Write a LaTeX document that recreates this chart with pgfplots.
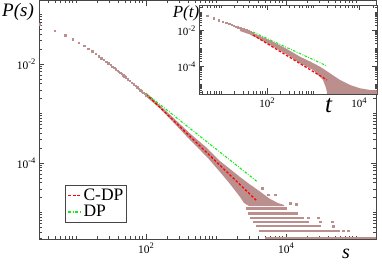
\documentclass[border=0pt]{standalone}
\usepackage{fontspec}
\setmainfont{Liberation Serif}
\usepackage{pgfplots}
\pgfplotsset{compat=1.18}
\definecolor{rosy}{RGB}{188,143,143}
\definecolor{dpgreen}{RGB}{20,235,20}
\definecolor{cdpred}{RGB}{255,0,0}
\definecolor{frame}{RGB}{70,70,70}
\newcommand{\tenp}[1]{10\raisebox{0.43em}{\fontsize{8.5}{8.5}\selectfont #1}}
\begin{document}
\begin{tikzpicture}
\path[use as bounding box] (0,0) rectangle (382pt,264pt);
\begin{axis}[
  at={(39pt,25pt)}, anchor=south west,
  scale only axis, width=337pt, height=238.5pt,
  xmode=log, ymode=log,
  xmin=2.958, xmax=1.93e5, ymin=2.917e-6, ymax=0.1919,
  xtick={100,10000}, xticklabels={\tenp{2},\tenp{4}},
  ytick={1e-4,1e-2}, yticklabels={\tenp{-4},\tenp{-2}},
  minor xtick={3,4,5,6,7,8,9,10,20,30,40,50,60,70,80,90,200,300,400,500,600,700,800,900,1000,2000,3000,4000,5000,6000,7000,8000,9000,20000,30000,40000,50000,60000,70000,80000,90000,100000},
  minor ytick={3e-6,4e-6,5e-6,6e-6,7e-6,8e-6,9e-6,1e-5,2e-5,3e-5,4e-5,5e-5,6e-5,7e-5,8e-5,9e-5,2e-4,3e-4,4e-4,5e-4,6e-4,7e-4,8e-4,9e-4,1e-3,2e-3,3e-3,4e-3,5e-3,6e-3,7e-3,8e-3,9e-3,2e-2,3e-2,4e-2,5e-2,6e-2,7e-2,8e-2,9e-2,1e-1},
  tick align=inside, major tick length=5.5pt, minor tick length=3pt,
  axis line style={frame, line width=0.8pt},
  every tick/.style={frame, line width=0.7pt},
  tick label style={font=\fontsize{11.5}{11.5}\selectfont},
  legend style={at={(0.0772,0.2264)}, anchor=north west, draw=frame, line width=0.8pt,
    font=\fontsize{17.5}{17.5}\selectfont, inner sep=2pt, nodes={inner sep=1.5pt}, row sep=0.5pt, cells={anchor=west}},
]
% dense cloud of C-DP sizes
\addplot[forget plot, fill=rosy, draw=none] coordinates {
(100,2.655e-3) (158.5,1.452e-3) (243.1,8.298e-4) (425.2,3.945e-4) (743.5,2.009e-4)
(1140,1.096e-4) (1585,7.568e-5) (2203,5.212e-5) (3059,3.681e-5) (4252,2.655e-5)
(5906,1.875e-5) (7686,1.556e-5) (9363,1.419e-5) (9363,1.352e-5) (2960,1.352e-5)
(2512,1.556e-5) (2203,2.056e-5) (1585,3.767e-5) (1140,6.577e-5) (743.5,1.321e-4)
(425.2,2.917e-4) (243.1,6.730e-4) (158.5,1.262e-3) (100,2.203e-3)};
% horizontal bands at large s
\addplot[forget plot, rosy, line width=2.4pt] coordinates {(2683,1.216e-5) (1.03e4,1.216e-5)};
\addplot[forget plot, rosy, line width=2.4pt] coordinates {(2865,9.64e-6) (1.484e4,9.64e-6)};
\addplot[forget plot, rosy, line width=2.4pt] coordinates {(3059,7.852e-6) (1.807e4,7.852e-6)};
\addplot[forget plot, rosy, line width=2.4pt] coordinates {(3378,6.516e-6) (2.131e4,6.516e-6)};
\addplot[forget plot, rosy, line width=2.4pt] coordinates {(3728,5.333e-6) (3.162e4,5.333e-6)};
\addplot[forget plot, rosy, line width=2.4pt] coordinates {(4115,4.285e-6) (5.906e4,4.285e-6)};
\addplot[forget plot, rosy, line width=2.4pt] coordinates {(5012,3.097e-6) (2.0e5,3.097e-6)};
% individual points
\addplot[forget plot, only marks, mark=square*, mark size=0.7pt, rosy] table {
s P
3 6.427e-2
5 4.710e-2
7 3.802e-2
9 3.155e-2
11 2.679e-2
13 2.312e-2
15 2.037e-2
17 1.799e-2
19 1.603e-2
21 1.445e-2
23 1.315e-2
25 1.205e-2
27 1.110e-2
29 1.029e-2
31 9.567e-3
33 8.935e-3
35 8.369e-3
37 7.864e-3
39 7.408e-3
41 6.998e-3
43 6.624e-3
45 6.284e-3
47 5.973e-3
49 5.689e-3
51 5.424e-3
55 4.956e-3
59 4.551e-3
63 4.201e-3
67 3.894e-3
71 3.621e-3
75 3.380e-3
79 3.165e-3
83 2.970e-3
87 2.797e-3
91 2.638e-3
95 2.494e-3
99 2.362e-3
20620 7.852e-6
28650 7.852e-6
30590 6.516e-6
45410 6.516e-6
46930 5.333e-6
65210 4.285e-6
76860 4.285e-6
4541 3.126e-5
6964 2.259e-5
5534 2.312e-5
11400 1.556e-5
13900 1.486e-5
};
\addplot[draw=cdpred, line width=1.3pt, dash pattern=on 2.5pt off 1.8pt,
  legend image code/.code={\draw[draw=cdpred, line width=1.6pt, dash pattern=on 3pt off 1.6pt] (0pt,0pt) -- (13pt,0pt);}]
  coordinates {(100,2.477e-3) (3853,1.706e-5)};
\addlegendentry{C-DP}
\addplot[draw=dpgreen, line width=1.1pt, dash pattern=on 2.5pt off 1.5pt on 0.8pt off 1.5pt,
  legend image code/.code={\draw[draw=dpgreen, line width=1.3pt, dash pattern=on 3pt off 1.5pt on 0.9pt off 1.5pt] (0pt,0pt) -- (13pt,0pt);}]
  coordinates {(100,2.535e-3) (3853,4.227e-5)};
\addlegendentry{DP}
\end{axis}

\begin{axis}[
  at={(199pt,170pt)}, anchor=south west,
  scale only axis, width=178.5pt, height=89pt,
  axis background/.style={fill=white},
  xmode=log, ymode=log,
  xmin=3.33, xmax=2.52e4, ymin=3.04e-6, ymax=0.268,
  xtick={100,10000}, xticklabels={\tenp{2},\tenp{4}},
  ytick={1e-4,1e-2}, yticklabels={\tenp{-4},\tenp{-2}},
  minor xtick={4,5,6,7,8,9,10,20,30,40,50,60,70,80,90,200,300,400,500,600,700,800,900,1000,2000,3000,4000,5000,6000,7000,8000,9000,20000},
  minor ytick={4e-6,5e-6,6e-6,7e-6,8e-6,9e-6,1e-5,2e-5,3e-5,4e-5,5e-5,6e-5,7e-5,8e-5,9e-5,2e-4,3e-4,4e-4,5e-4,6e-4,7e-4,8e-4,9e-4,1e-3,2e-3,3e-3,4e-3,5e-3,6e-3,7e-3,8e-3,9e-3,2e-2,3e-2,4e-2,5e-2,6e-2,7e-2,8e-2,9e-2,1e-1,2e-1},
  tick align=inside, major tick length=5.5pt, minor tick length=3pt,
  axis line style={frame, line width=0.8pt},
  every tick/.style={frame, line width=0.7pt},
  tick label style={font=\fontsize{11}{11}\selectfont},
]
\addplot[fill=rosy, draw=none] coordinates {
(25.88,1.413e-2) (42.70,9.262e-3) (70.43,5.076e-3) (135.0,2.448e-3) (258.8,1.026e-3)
(521.8,3.594e-4) (860.6,1.945e-4) (1420,1.0e-4) (2342,4.298e-5) (3864,1.824e-5)
(6373,9.623e-6) (10513,6.310e-6) (17340,5.076e-6) (30000,4.762e-6) (30000,2e-6)
(2119,2e-6) (1918,6.556e-6) (1650,1.824e-5) (1284,3.459e-5) (1000,6.556e-5)
(521.8,1.545e-4) (258.8,5.076e-4) (135.0,1.291e-3) (70.43,3.245e-3) (42.70,6.151e-3)
(25.88,9.623e-3)};
\addplot[only marks, mark=square*, mark size=0.7pt, rosy] table {
t P
5 6.823e-2
7 4.943e-2
9 3.882e-2
11 3.199e-2
13 2.729e-2
15 2.377e-2
17 2.109e-2
19 1.892e-2
21 1.722e-2
23 1.578e-2
25 1.455e-2
27 1.352e-2
29 1.262e-2
31 1.186e-2
35 1.054e-2
39 9.506e-3
43 8.650e-3
47 7.943e-3
};
\addplot[draw=cdpred, line width=1.2pt, dash pattern=on 2.5pt off 1.8pt] coordinates {(49.63,5.77e-3) (2015,1.824e-5)};
\addplot[draw=dpgreen, line width=1.0pt, dash pattern=on 2.5pt off 1.5pt on 0.8pt off 1.5pt] coordinates {(49.63,8.468e-3) (2015,1.094e-4)};
\end{axis}

\node[anchor=base, font=\fontsize{19}{19}\selectfont\itshape] at (18pt,247.5pt) {P(s)};
\node[anchor=base, inner sep=0pt, font=\fontsize{20}{20}\selectfont\itshape] at (346pt,5pt) {s};
\node[anchor=base, font=\fontsize{17}{17}\selectfont\itshape] at (186pt,246.8pt) {P(t)};
\node[anchor=base, font=\fontsize{25}{25}\selectfont\itshape] at (328.5pt,151pt) {t};
\end{tikzpicture}
\end{document}
